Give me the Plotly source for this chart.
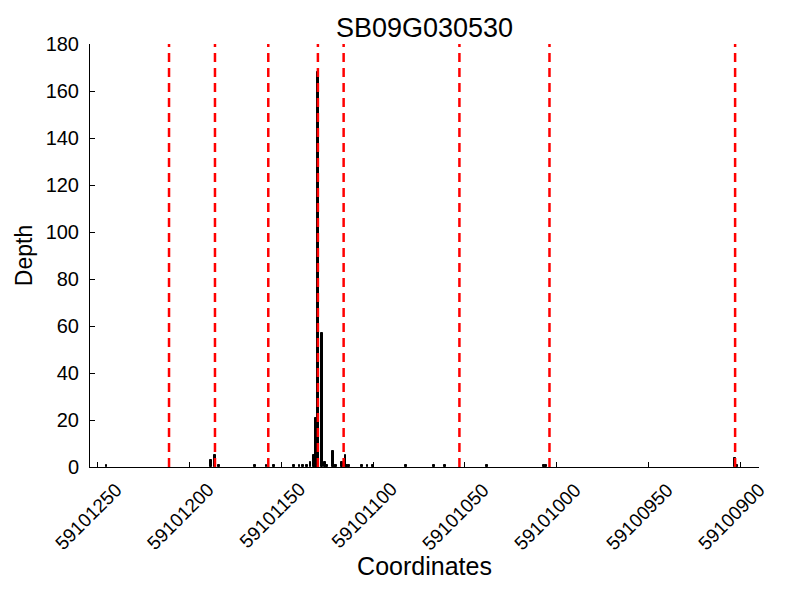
import plotly.graph_objects as go

# read-depth bars (genomic coordinate, depth)
positions = [59101245, 59101188, 59101186, 59101184, 59101164, 59101158, 59101154,
             59101143, 59101140, 59101138, 59101136, 59101134, 59101132, 59101131,
             59101130, 59101128, 59101126, 59101125, 59101122, 59101121, 59101120,
             59101117, 59101115, 59101114, 59101113, 59101106, 59101103, 59101100,
             59101082, 59101067, 59101061, 59101038, 59101007, 59101006, 59100903,
             59100902]
depths = [1, 3, 5, 1, 1, 1, 1,
          1, 1, 1, 1, 2, 5, 21,
          168, 57, 2, 1, 7, 1, 1,
          2, 5, 1, 1, 1, 1, 1,
          1, 1, 1, 1, 1, 1, 4,
          1]

# red dashed markers
marker_positions = [59101211, 59101186, 59101157, 59101130, 59101116,
                    59101053, 59101004, 59100903]

x_ticks = [59101250, 59101200, 59101150, 59101100, 59101050,
           59101000, 59100950, 59100900]

font_family = "Liberation Sans, Arial, sans-serif"

fig = go.Figure()

fig.add_trace(
    go.Bar(
        x=positions,
        y=depths,
        width=1,
        marker=dict(color="black", line=dict(color="black", width=1)),
        showlegend=False
    )
)

for pos in marker_positions:
    fig.add_shape(
        type="line",
        x0=pos, x1=pos,
        y0=0, y1=1,
        xref="x", yref="paper",
        line=dict(color="red", width=2.5, dash="9px,6px")
    )

# rotated tick labels centred under each tick (matplotlib style)
for t in x_ticks:
    fig.add_annotation(
        x=t, y=0,
        xref="x", yref="paper",
        text=str(t),
        textangle=-45,
        showarrow=False,
        xanchor="center", yanchor="top",
        xshift=-9, yshift=-9,
        font=dict(size=19, color="black", family=font_family)
    )

fig.update_layout(
    title=dict(text="SB09G030530", x=0.5, xref="paper", xanchor="center",
               y=0.967, yanchor="middle",
               font=dict(size=27, color="black", family=font_family)),
    width=800,
    height=600,
    margin=dict(l=82, r=49, t=36, b=141),
    plot_bgcolor="white",
    paper_bgcolor="white",
    font=dict(family=font_family, size=20, color="black"),
    bargap=0
)

fig.update_xaxes(
    range=[59101254, 59100890],
    tickvals=x_ticks,
    showticklabels=False,
    ticks="inside",
    ticklen=5,
    tickcolor="black",
    showline=True,
    linecolor="black",
    linewidth=1,
    mirror=False,
    showgrid=False,
    zeroline=False,
    automargin=False,
    title=dict(text="Coordinates", font=dict(size=25), standoff=90)
)

fig.update_yaxes(
    range=[0, 180],
    tickvals=list(range(0, 181, 20)),
    ticks="inside",
    ticklen=5,
    tickcolor="black",
    showline=True,
    linecolor="black",
    linewidth=1,
    showgrid=False,
    zeroline=False,
    ticklabelstandoff=6,
    title=dict(text="Depth", font=dict(size=23), standoff=6),
    tickfont=dict(size=20)
)

fig.write_html("out.html")
